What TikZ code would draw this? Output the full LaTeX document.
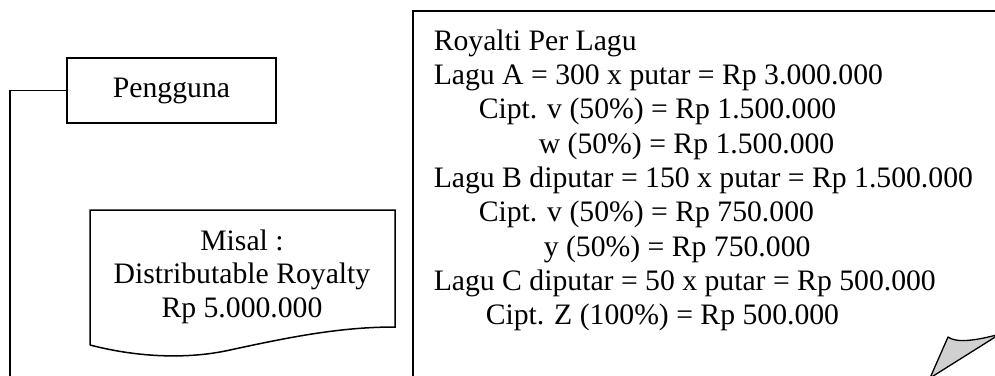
\documentclass[tikz,border=0pt]{standalone}
\usepackage{fontspec}
\setmainfont{Liberation Serif}
\begin{document}
\begin{tikzpicture}[x=1pt,y=-1pt,
  line width=1.5pt,
  txt/.style={inner sep=0pt, font=\fontsize{29.7}{34}\selectfont},
  boxline/.style={draw=black, line width=1.5pt}]
\useasboundingbox (0,0) rectangle (995,375);
\clip (0,0) rectangle (995,375);
\definecolor{curlgray}{RGB}{208,208,208}

% Pengguna box
\node[boxline, txt, minimum width=209pt, minimum height=65pt] (pengguna) at (171.5,90.5) {Pengguna};
\coordinate (leftbottom) at (10,380);
\draw (pengguna.west) -| (leftbottom);

% Misal document shape
\coordinate (mTL) at (90,210);
\coordinate (mTR) at (395,210);
\coordinate (mBR) at (395,327);
\coordinate (mBL) at (90,345);
\draw (mBL) -- (mTL) -- (mTR) -- (mBR)
  .. controls (340,327) and (290,337) .. (230,350)
  .. controls (190,359) and (140,358) .. (mBL);
\node[txt, anchor=base] (misal1) at (242,250) {Misal :};
\node[txt, anchor=base] (misal2) at (242,283.5) {Distributable Royalty};
\node[txt, anchor=base] (misal3) at (242,317) {Rp 5.000.000};

% Right page
\coordinate (pBL) at (413,380);
\coordinate (pTL) at (413,11);
\coordinate (pTR) at (1000,11);
\draw (pBL) -- (pTL) -- (pTR);

\node[txt, anchor=base west] (l1) at (433,50) {Royalti Per Lagu};
\node[txt, anchor=base west] (l2) at (433,84) {Lagu A = 300 x putar = Rp 3.000.000};
\node[txt, anchor=base west] (l3) at (478,118.5) {Cipt. v (50\%) = Rp 1.500.000};
\node[txt, anchor=base west] (l4) at (538,153) {w (50\%) = Rp 1.500.000};
\node[txt, anchor=base west] (l5) at (433,187) {Lagu B diputar = 150 x putar = Rp 1.500.000};
\node[txt, anchor=base west] (l6) at (478,221.5) {Cipt. v (50\%) = Rp 750.000};
\node[txt, anchor=base west] (l7) at (543,256) {y (50\%) = Rp 750.000};
\node[txt, anchor=base west] (l8) at (433,290) {Lagu C diputar = 50 x putar = Rp 500.000};
\node[txt, anchor=base west] (l9) at (485,324) {Cipt. Z (100\%) = Rp 500.000};

% Curled corner
\coordinate (cTip) at (948,337);
\coordinate (cRight) at (1000,334);
\coordinate (cBot) at (930,378);
\draw[fill=curlgray, line width=1.3pt, line join=round] (cTip)
  .. controls (956,343) and (975,341) .. (cRight) -- (cBot) -- cycle;
\end{tikzpicture}
\end{document}
